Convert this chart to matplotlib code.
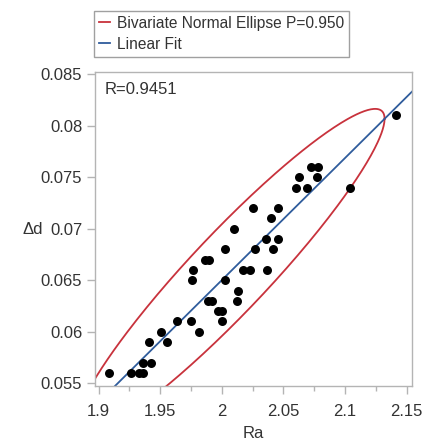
import numpy as np
import matplotlib
matplotlib.use("Agg")
import matplotlib.pyplot as plt
from matplotlib.lines import Line2D

plt.rcParams['font.family'] = ['Liberation Sans', 'DejaVu Sans']

# data
ra = [1.9088, 1.9264, 1.9329, 1.9364, 1.9359, 1.9426, 1.9410, 1.9507,
      1.9558, 1.9640, 1.9751, 1.9818, 1.9761, 1.9765, 1.9864, 1.9897,
      1.9889, 1.9919, 1.9970, 2.0000, 2.0000, 2.0027, 2.0027, 2.0100,
      2.0122, 2.0130, 2.0175, 2.0230, 2.0250, 2.0270, 2.0360, 2.0365,
      2.0396, 2.0414, 2.0459, 2.0459, 2.0603, 2.0630, 2.0695, 2.0723,
      2.0771, 2.0784, 2.1041, 2.1415]
dd = [0.056, 0.056, 0.056, 0.056, 0.057, 0.057, 0.059, 0.060,
      0.059, 0.061, 0.061, 0.060, 0.065, 0.066, 0.067, 0.067,
      0.063, 0.063, 0.062, 0.062, 0.061, 0.065, 0.068, 0.070,
      0.063, 0.064, 0.066, 0.066, 0.072, 0.068, 0.069, 0.066,
      0.071, 0.068, 0.069, 0.072, 0.074, 0.075, 0.074, 0.076,
      0.075, 0.076, 0.074, 0.081]

xticks = [1.9, 1.95, 2.0, 2.05, 2.1, 2.15]
xlabels = ['1.9', '1.95', '2', '2.05', '2.1', '2.15']
yticks = [0.055, 0.06, 0.065, 0.07, 0.075, 0.08, 0.085]
ylabels = ['0.055', '0.06', '0.065', '0.07', '0.075', '0.08', '0.085']
prob = 0.95

RED = '#c8323c'
BLUE = '#2f5c9c'
GRAY = '#b4b4b4'
TXT = '#333333'

x = np.array(ra)
y = np.array(dd)

# linear fit
b, a = np.polyfit(x, y, 1)

# bivariate normal ellipse
mu = np.array([x.mean(), y.mean()])
cov = np.cov(x, y)
L = np.linalg.cholesky(cov)
c = -2 * np.log(1 - prob)
t = np.linspace(0, 2 * np.pi, 400)
circ = np.vstack([np.cos(t), np.sin(t)]) * np.sqrt(c)
ell = L @ circ + mu[:, None]

fig = plt.figure(figsize=(4.28, 4.41), dpi=100)
ax = fig.add_axes([94.7 / 428, 1 - 385.7 / 441, (411.7 - 94.7) / 428, (385.7 - 72.3) / 441])

ax.plot(ell[0], ell[1], color=RED, lw=1.3)
xs = np.array([1.85, 2.2])
ax.plot(xs, a + b * xs, color=BLUE, lw=1.3)
ax.scatter(x, y, s=42, color='black', zorder=3, linewidths=0)

ax.set_xlim(1.8969, 2.1542)
ax.set_ylim(0.05477, 0.08518)
ax.set_xticks(xticks)
ax.set_xticklabels(xlabels)
ax.set_xticks([1.925, 1.975, 2.025, 2.075, 2.125], minor=True)
ax.set_yticks(yticks)
ax.set_yticklabels(ylabels)

for s in ax.spines.values():
    s.set_color(GRAY)
    s.set_linewidth(1.0)
ax.tick_params(which='major', length=6, width=1, color=GRAY, labelsize=12, labelcolor=TXT, pad=3)
ax.tick_params(axis='x', which='major', pad=7)
ax.tick_params(which='minor', length=3.5, width=1, color=GRAY)

ax.set_xlabel('Ra', fontsize=12, color=TXT, labelpad=5)
ax.set_ylabel('Δd', fontsize=12, color=TXT, rotation=0, labelpad=8, va='center')
ax.yaxis.set_label_coords(-0.195, 0.5)

ax.text(0.03, 0.97, 'R=0.9451', transform=ax.transAxes, fontsize=12,
        color=TXT, ha='left', va='top')

handles = [Line2D([], [], color=RED, lw=1.3), Line2D([], [], color=BLUE, lw=1.3)]
leg = fig.legend(handles, ['Bivariate Normal Ellipse P=0.950', 'Linear Fit'],
                 loc='upper left', bbox_to_anchor=(94 / 428, 1 - 11 / 441),
                 borderaxespad=0, fontsize=11.2, frameon=True, fancybox=False,
                 handlelength=0.7, handletextpad=0.5, labelspacing=0.4,
                 borderpad=0.3)
leg.get_frame().set_edgecolor('#888888')
leg.get_frame().set_linewidth(1.0)
for txt in leg.get_texts():
    txt.set_color(TXT)

fig.savefig('out.png', dpi=100)
